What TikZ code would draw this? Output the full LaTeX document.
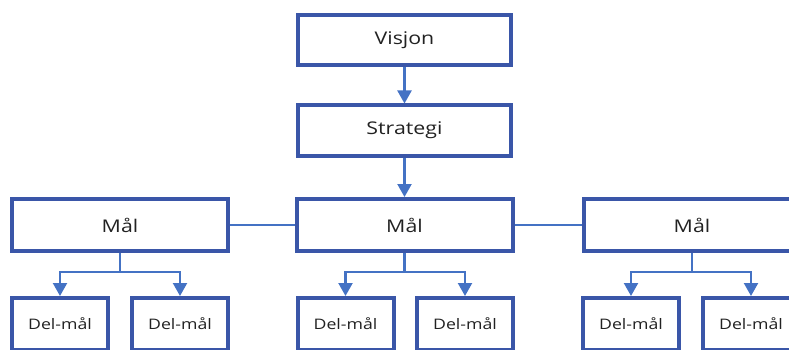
\documentclass[tikz,border=0pt]{standalone}
\usepackage{fontspec}
\setmainfont[FakeStretch=1.22]{Open Sans}
\usetikzlibrary{arrows.meta}
\definecolor{boxblue}{HTML}{3A56A8}
\definecolor{lineblue}{HTML}{4472C4}
\definecolor{ink}{HTML}{222222}
\tikzset{
  box/.style={draw=boxblue, line width=4pt, fill=white, text=ink, align=center, inner sep=0pt},
  topbox/.style={box, minimum width=213pt, minimum height=50pt, font=\fontsize{17.5}{19}\selectfont},
  goalbox/.style={box, minimum width=216pt, minimum height=52pt, font=\fontsize{17.5}{19}\selectfont},
  subbox/.style={box, minimum width=96pt, minimum height=52pt, font=\fontsize{14.5}{16}\selectfont},
  link/.style={draw=lineblue, line width=2.2pt},
  arr/.style={link, -{Triangle[length=13pt, width=14pt]}}
}
\begin{document}
\begin{tikzpicture}[x=1pt, y=-1pt]
  \useasboundingbox (0,0) rectangle (789,350);
  \begin{scope}
    \clip (0,0) rectangle (789,350);
    % top chain
    \node[topbox] (vis) at (404.5,40) {Visjon};
    \node[topbox] (str) at (404.5,130.5) {Strategi};
    % goals
    \node[goalbox] (ml) at (120,225) {Mål};
    \node[goalbox] (mm) at (404.5,225) {Mål};
    \node[goalbox] (mr) at (692,225) {Mål};
    % sub-goals
    \node[subbox] (d1) at (60,324) {Del-mål};
    \node[subbox] (d2) at (180,324) {Del-mål};
    \node[subbox] (d3) at (345.5,324) {Del-mål};
    \node[subbox] (d4) at (465,324) {Del-mål};
    \node[subbox] (d5) at (631,324) {Del-mål};
    \node[subbox] (d6) at (751,324) {Del-mål};
    % branch points
    \coordinate (jl) at (120,272);
    \coordinate (jm) at (404.5,272);
    \coordinate (jr) at (692,272);
    % connectors
    \draw[arr] (vis.south) -- (str.north);
    \draw[arr] (str.south) -- (mm.north);
    \draw[link] (ml.east) -- (mm.west);
    \draw[link] (mm.east) -- (mr.west);
    \draw[link] (ml.south) -- (jl);
    \draw[link] (mm.south) -- (jm);
    \draw[link] (mr.south) -- (jr);
    \draw[arr] (jl) -| (d1.north);
    \draw[arr] (jl) -| (d2.north);
    \draw[arr] (jm) -| (d3.north);
    \draw[arr] (jm) -| (d4.north);
    \draw[arr] (jr) -| (d5.north);
    \draw[arr] (jr) -| (d6.north);
  \end{scope}
\end{tikzpicture}
\end{document}
